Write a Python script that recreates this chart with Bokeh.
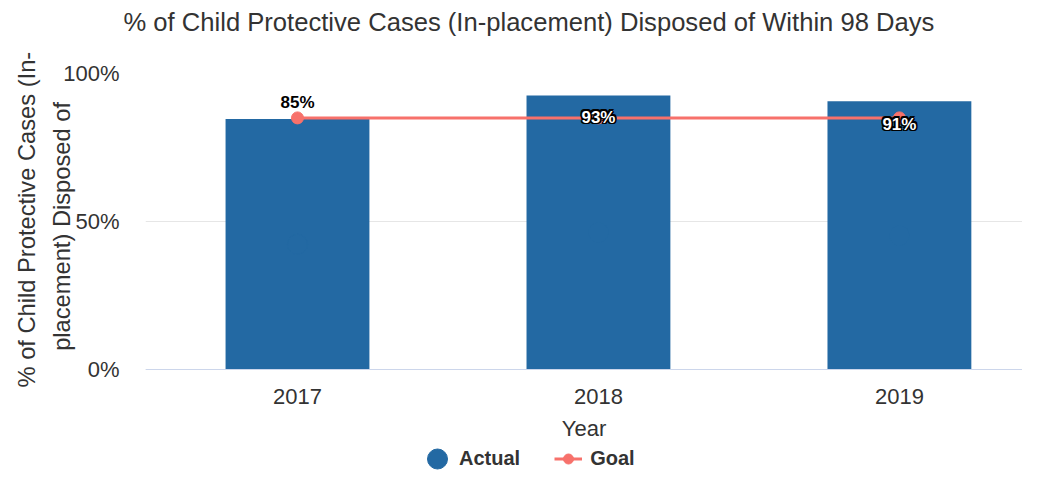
from bokeh.plotting import figure
from bokeh.models import Range1d, FixedTicker, Legend, LegendItem, ColumnDataSource, Title
from bokeh.embed import file_html
from bokeh.resources import INLINE
from bokeh.core.properties import value

# ---- data ----
years = ["2017", "2018", "2019"]
actual = [84.6, 92.6, 90.6]
goal = [85, 85, 85]
y_ticks = [0, 50, 100]
y_tick_labels = ["0%", "50%", "100%"]
y_title_lines = ["% of Child Protective Cases (In-", "placement) Disposed of"]

# ---- styles ----
FONT = "Liberation Sans"
BAR = "#2369a3"
GOAL = "#f7716b"
TXT = "#333333"
label_offsets = [-17, 22, 23]
label_colors = ["#000000", "#ffffff", "#ffffff"]
label_outlines = ["#ffffff", "#000000", "#000000"]
outline_shifts = [(-1.5, -1.5), (0, -1.5), (1.5, -1.5), (-1.5, 0), (1.5, 0),
                  (-1.5, 1.5), (0, 1.5), (1.5, 1.5)]
y_title_pad = 14  # non-breaking spaces that lift the second line of the y title

x = list(range(len(years)))
labels = [f"{v:.0f}%" for v in actual]

# frame runs to the bottom of the canvas; the x axis sits at y = 0 (fixed_location)
p = figure(width=1022, height=471, x_range=Range1d(-0.505, 2.409), y_range=Range1d(-34.46, 100),
           output_backend="svg", toolbar_location=None,
           min_border_left=145, min_border_right=0, min_border_top=73, min_border_bottom=0)
p.outline_line_color = None
p.background_fill_color = "white"

# spacer between the title and the plot area
p.add_layout(Title(text=" ", text_font_size="19px", standoff=10), "above")

p.title.text = "% of Child Protective Cases (In-placement) Disposed of Within 98 Days"
p.title.text_font = FONT
p.title.text_font_size = "25.6px"
p.title.text_font_style = "normal"
p.title.text_color = TXT
p.title.align = "left"
p.title.offset = -22
p.title.standoff = 10

# bars
p.vbar(x=x, top=actual, width=0.478, color=BAR, line_color=None)
# legend proxy for bars (same colour, hidden inside the bars)
r_act = p.ellipse(x=x, y=[v / 2 for v in actual], width=20, height=20,
                  width_units="screen", height_units="screen", color=BAR, line_color=BAR)

# goal
r_gl = p.line(x=x, y=goal, color=GOAL, line_width=3)
r_gm = p.scatter(x=x, y=goal, size=12, color=GOAL, line_color=GOAL)

# data labels with outline
for dx, dy in outline_shifts:
    s = ColumnDataSource(dict(x=x, y=actual, text=labels, color=label_outlines,
                              xoff=[dx] * len(x), yoff=[o + dy for o in label_offsets]))
    p.text(x="x", y="y", text="text", x_offset="xoff", y_offset="yoff", source=s,
           text_color="color", text_font=value(FONT), text_font_size="17px",
           text_font_style="bold", text_align="center", text_baseline="middle")
src = ColumnDataSource(dict(x=x, y=actual, text=labels, yoff=label_offsets, color=label_colors))
p.text(x="x", y="y", text="text", y_offset="yoff", source=src,
       text_color="color", text_font=value(FONT), text_font_size="17px", text_font_style="bold",
       text_align="center", text_baseline="middle")

# axes
p.xaxis.ticker = FixedTicker(ticks=x)
p.xaxis.major_label_overrides = dict(zip(x, years))
p.xaxis.fixed_location = 0
p.yaxis.ticker = FixedTicker(ticks=y_ticks)
p.yaxis.major_label_overrides = dict(zip(y_ticks, y_tick_labels))

for ax in (p.xaxis[0], p.yaxis[0]):
    ax.major_tick_line_color = None
    ax.minor_tick_line_color = None
    ax.major_tick_out = 0
    ax.major_tick_in = 0
    ax.minor_tick_out = 0
    ax.major_label_text_font = FONT
    ax.major_label_text_font_size = "22px"
    ax.major_label_text_color = TXT
    ax.axis_label_text_font = FONT
    ax.axis_label_text_font_style = "normal"
    ax.axis_label_text_color = TXT

p.xaxis.axis_line_color = "#ccd6eb"
p.xaxis.major_label_standoff = 20
p.xaxis.axis_label = "Year"
p.xaxis.axis_label_text_font_size = "22px"
p.xaxis.axis_label_standoff = 8

p.yaxis.axis_line_color = None
p.yaxis.major_label_standoff = 26
# second line of the y title is the axis label; the first line is a side title further out
p.yaxis.axis_label = "\u00a0" * y_title_pad + y_title_lines[1]
p.yaxis.axis_label_text_font_size = "23.7px"
p.yaxis.axis_label_standoff = -15
p.add_layout(Title(text=y_title_lines[0], text_font=FONT, text_font_size="23.7px",
                   text_font_style="normal", text_color=TXT, align="left",
                   offset=84, standoff=14), "left")

p.xgrid.grid_line_color = None
p.ygrid.grid_line_color = "#e6e6e6"
p.ygrid.ticker = FixedTicker(ticks=y_ticks)

leg = Legend(items=[LegendItem(label="Actual", renderers=[r_act]),
                    LegendItem(label="Goal", renderers=[r_gl, r_gm])],
             orientation="horizontal", location=(278, 0),
             glyph_width=28, glyph_height=25, label_standoff=8, spacing=34,
             padding=0, margin=0, border_line_color=None, background_fill_alpha=0,
             label_text_font=FONT, label_text_font_size="20px",
             label_text_font_style="bold", label_text_color=TXT)
p.add_layout(leg)

open("out.html", "w").write(file_html(p, INLINE))
